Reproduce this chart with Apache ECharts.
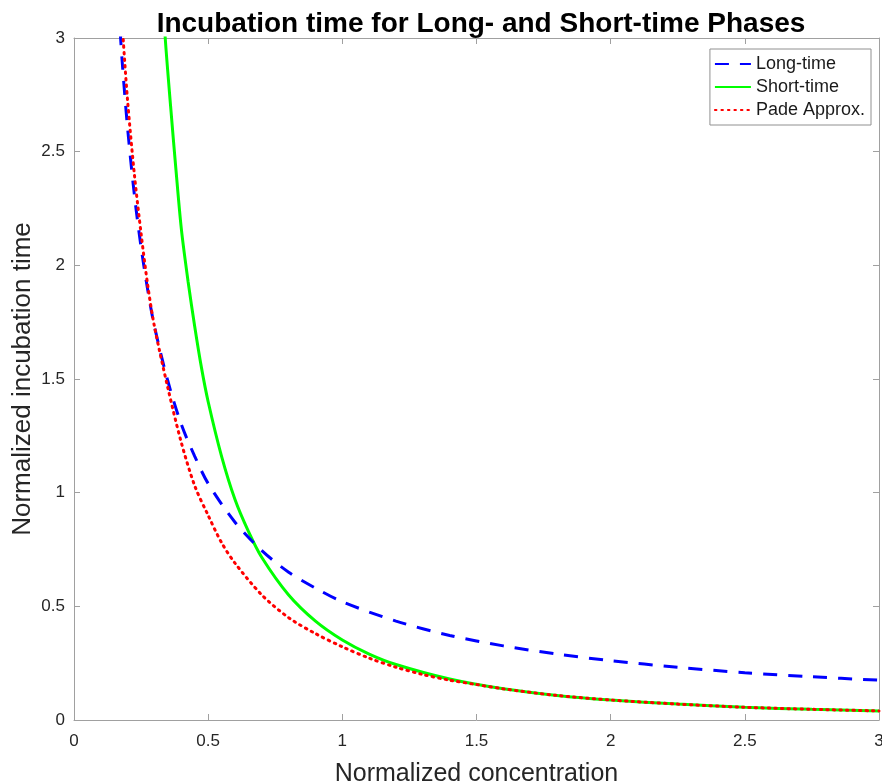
<!DOCTYPE html>
<html>
<head>
<meta charset="utf-8">
<script src="https://cdn.jsdelivr.net/npm/echarts@6/dist/echarts.min.js"></script>
<style>
html,body{margin:0;padding:0;background:#fff;}
#chart{width:882px;height:783px;}
</style>
</head>
<body>
<div id="chart"></div>
<script>
var titleText = 'Incubation time for Long- and Short-time Phases';
var xAxisName = 'Normalized concentration';
var yAxisName = 'Normalized incubation time';
var seriesNames = ['Long-time', 'Short-time', 'Pade Approx.'];

var longX = [0.16, 0.18, 0.2, 0.225, 0.25, 0.275, 0.3, 0.35, 0.4, 0.45, 0.5, 0.6, 0.7, 0.8, 0.9, 1.0, 1.2, 1.4, 1.6, 1.8, 2.0, 2.25, 2.5, 2.75, 3.0];
var longY = [3.25, 2.89, 2.6, 2.31, 2.08, 1.89, 1.73, 1.49, 1.3, 1.16, 1.04, 0.87, 0.745, 0.65, 0.58, 0.52, 0.435, 0.372, 0.326, 0.29, 0.261, 0.232, 0.208, 0.19, 0.175];

var shortX = [0.32, 0.34, 0.36, 0.38, 0.4, 0.425, 0.45, 0.475, 0.5, 0.55, 0.6, 0.65, 0.7, 0.8, 0.9, 1.0, 1.1, 1.2, 1.4, 1.6, 1.8, 2.0, 2.25, 2.5, 2.75, 3.0];
var shortY = [3.4, 3.0, 2.7, 2.42, 2.16, 1.93, 1.73, 1.55, 1.4, 1.16, 0.97, 0.83, 0.715, 0.55, 0.435, 0.352, 0.29, 0.244, 0.18, 0.137, 0.108, 0.088, 0.07, 0.056, 0.047, 0.04];

var padeX = [0.17, 0.183, 0.2, 0.225, 0.25, 0.275, 0.3, 0.35, 0.4, 0.45, 0.5, 0.55, 0.6, 0.7, 0.8, 0.9, 1.0, 1.1, 1.2, 1.3, 1.4, 1.5, 1.6, 1.8, 2.0, 2.25, 2.5, 2.75, 3.0];
var padeY = [3.25, 3.0, 2.72, 2.4, 2.14, 1.91, 1.73, 1.46, 1.22, 1.03, 0.9, 0.78, 0.69, 0.55, 0.45, 0.38, 0.322, 0.272, 0.232, 0.2, 0.175, 0.156, 0.137, 0.108, 0.088, 0.07, 0.056, 0.047, 0.04];

var xTicks = [0, 0.5, 1, 1.5, 2, 2.5, 3];
var yTicks = [0, 0.5, 1, 1.5, 2, 2.5, 3];

function zip(xs, ys) { return xs.map(function (x, i) { return [x, ys[i]]; }); }

var chart = echarts.init(document.getElementById('chart'), null, {renderer: 'canvas'});
var FONT = 'Liberation Sans, Arial, sans-serif';
var axisColor = '#a0a0a0';
var labelColor = '#262626';

var baseAxis = {
  type: 'value',
  min: xTicks[0], max: xTicks[xTicks.length - 1], interval: 0.5,
  splitLine: {show: false},
  axisLine: {show: true, onZero: false, lineStyle: {color: axisColor, width: 1}},
  axisTick: {show: true, inside: true, length: 6, lineStyle: {color: axisColor}}
};

chart.setOption({
  animation: false,
  backgroundColor: '#ffffff',
  title: {
    text: titleText,
    left: 476, textAlign: 'center', top: 5,
    textStyle: {fontFamily: FONT, fontWeight: 'bold', fontSize: 28, color: '#000'}
  },
  legend: {
    right: 11, top: 49,
    orient: 'vertical',
    align: 'left',
    backgroundColor: '#fff',
    borderColor: '#909090', borderWidth: 1,
    padding: [6, 6, 6, 4],
    itemWidth: 36, itemHeight: 14, itemGap: 5,
    itemStyle: {opacity: 0},
    textStyle: {fontFamily: FONT, fontSize: 18, color: '#1a1a1a'},
    data: seriesNames
  },
  grid: {left: 74, right: 3, top: 38, bottom: 63, containLabel: false, outerBoundsMode: 'none'},
  xAxis: [
    Object.assign({}, baseAxis, {
      position: 'bottom',
      name: xAxisName, nameLocation: 'middle', nameGap: 42,
      nameTextStyle: {fontFamily: FONT, fontSize: 25, color: labelColor},
      axisLabel: {fontFamily: FONT, fontSize: 17, color: labelColor, margin: 13,
        formatter: function (v) { return String(v); }}
    }),
    Object.assign({}, baseAxis, {position: 'top', axisLabel: {show: false}})
  ],
  yAxis: [
    Object.assign({}, baseAxis, {
      min: yTicks[0], max: yTicks[yTicks.length - 1],
      position: 'left',
      name: yAxisName, nameLocation: 'middle', nameGap: 38, nameMoveOverlap: false,
      nameTextStyle: {fontFamily: FONT, fontSize: 26, color: labelColor},
      axisLabel: {fontFamily: FONT, fontSize: 17, color: labelColor, margin: 9,
        formatter: function (v) { return String(v); }}
    }),
    Object.assign({}, baseAxis, {min: yTicks[0], max: yTicks[yTicks.length - 1], position: 'right', axisLabel: {show: false}})
  ],
  series: [
    {
      name: seriesNames[0], type: 'line', data: zip(longX, longY),
      showSymbol: false, symbol: 'none', smooth: 0.3, clip: true,
      lineStyle: {color: '#0000ff', width: 3, type: [14, 11]},
      itemStyle: {color: '#0000ff'}, z: 3
    },
    {
      name: seriesNames[1], type: 'line', data: zip(shortX, shortY),
      showSymbol: false, symbol: 'none', smooth: 0.3, clip: true,
      lineStyle: {color: '#00ff00', width: 3, type: 'solid'},
      itemStyle: {color: '#00ff00'}, z: 2
    },
    {
      name: seriesNames[2], type: 'line', data: zip(padeX, padeY),
      showSymbol: false, symbol: 'none', smooth: 0.3, clip: true,
      lineStyle: {color: '#ff0000', width: 3, type: [1.5, 5], cap: 'round'},
      itemStyle: {color: '#ff0000'}, z: 4
    }
  ]
});
</script>
</body>
</html>
